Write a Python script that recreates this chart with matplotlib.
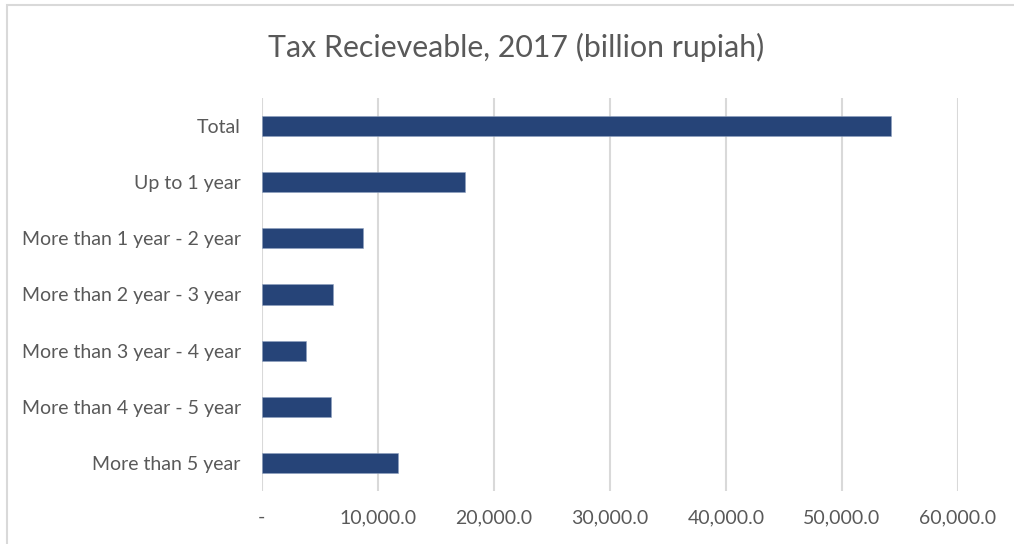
import matplotlib
matplotlib.use("Agg")
import matplotlib.pyplot as plt
from matplotlib.patches import Rectangle

categories = ["Total", "Up to 1 year", "More than 1 year - 2 year",
              "More than 2 year - 3 year", "More than 3 year - 4 year",
              "More than 4 year - 5 year", "More than 5 year"]
values = [54200, 17500, 8700, 6150, 3850, 5950, 11750]
xticks = [0, 10000, 20000, 30000, 40000, 50000, 60000]
xtick_labels = ["-", "10,000.0", "20,000.0", "30,000.0", "40,000.0", "50,000.0", "60,000.0"]
title = "Tax Recieveable, 2017 (billion rupiah)"

W, H = 1014, 544
fig = plt.figure(figsize=(W / 100, H / 100), dpi=100)
plt.rcParams['font.family'] = ['Lato', 'DejaVu Sans']
txt = '#595959'

# chart border (top and left visible)
fig.add_artist(Rectangle((7 / W, -0.1), 1.2, (1 - 5 / H) + 0.1, transform=fig.transFigure,
                         fill=False, edgecolor='#d9d9d9', linewidth=1.5))

left, right, top, bottom = 261.7, 958.0, 98.0, 491.0
ax = fig.add_axes([left / W, 1 - bottom / H, (right - left) / W, (bottom - top) / H])

ypos = list(range(len(categories)))
ax.barh(ypos, values, height=0.36, color='#264478', edgecolor='#8ea0bf', linewidth=0.4, zorder=3)
ax.set_ylim(len(categories) - 0.5, -0.5)
ax.set_xlim(0, 60000)
ax.set_yticks(ypos)
ax.set_yticklabels(categories)
ax.set_xticks(xticks)
ax.set_xticklabels(xtick_labels)
ax.grid(axis='x', color='#d9d9d9', linewidth=1.5, zorder=0)
for s in ax.spines.values():
    s.set_visible(False)
ax.tick_params(axis='both', length=0, labelcolor=txt, labelsize=14)
ax.tick_params(axis='y', pad=15)
ax.tick_params(axis='x', pad=13)

fig.text(516 / W, 1 - 47 / H, title, ha='center', va='center', fontsize=21.8, color=txt)

fig.savefig("out.png", dpi=100)
